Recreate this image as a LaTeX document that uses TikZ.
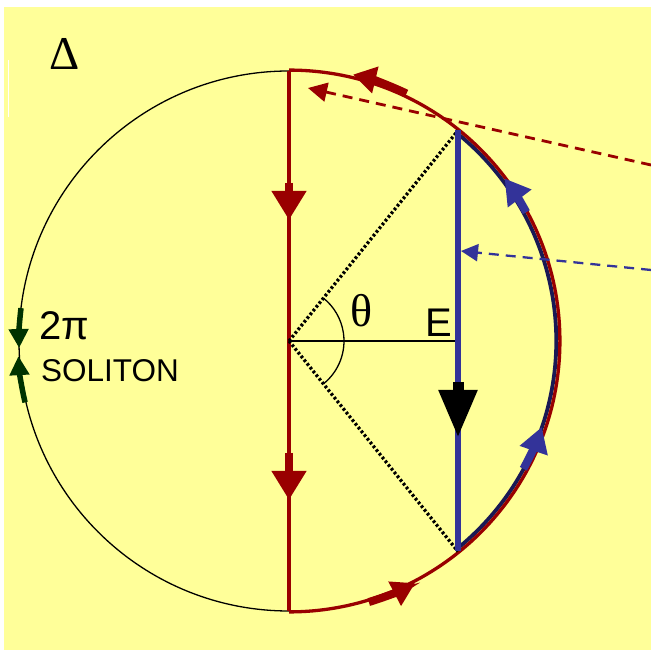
\documentclass[tikz,border=0pt]{standalone}
\usepackage{fontspec}
\setmainfont{Liberation Sans}
\newfontfamily\timesfont{Liberation Serif}
\usetikzlibrary{arrows.meta,calc}
\definecolor{bgy}{RGB}{255,255,153}
\definecolor{dred}{RGB}{153,0,0}
\definecolor{pblue}{RGB}{51,51,153}
\definecolor{navy}{RGB}{25,25,85}
\definecolor{dgreen}{RGB}{0,51,0}
\begin{document}
\begin{tikzpicture}[x=1pt,y=1pt,
  thinblack/.style={black, line width=1.3pt},
  redline/.style={dred, line width=3.2pt},
  blueline/.style={pblue, line width=5.5pt},
  dotline/.style={black, line width=3.3pt, dash pattern=on 2.6pt off 2.2pt},
  fatred/.style={dred, line width=8pt, -{Triangle[length=29pt,width=33pt]}},
  arcred/.style={dred, line width=8pt, -{Triangle[length=23pt,width=26pt]}},
  arcblue/.style={pblue, line width=8pt, -{Triangle[length=25pt,width=28pt]}},
  fatblack/.style={black, line width=11pt, -{Triangle[length=48pt,width=36pt]}},
  greenarrow/.style={dgreen, line width=5.5pt, -{Triangle[length=19pt,width=19pt]}},
  reddash/.style={dred, line width=2.8pt, dash pattern=on 10pt off 7pt, -{Triangle[length=19pt,width=19pt]}},
  bluedash/.style={pblue, line width=2.3pt, dash pattern=on 10pt off 7pt, -{Triangle[length=17pt,width=17pt]}},
  lbl/.style={inner sep=0pt, anchor=base}
]
\useasboundingbox (0,0) rectangle (651,650);
\fill[bgy] (4,0) rectangle (651,643);
\draw[white, line width=1pt] (8,590) -- (8,533);

% geometry
\coordinate (C) at (289,309);
\coordinate (T) at (289,579);
\coordinate (B) at (289,39);
\coordinate (P) at (458,519.5);
\coordinate (Q) at (458,98.5);
\coordinate (M) at (458,309);

% circle halves
\draw[thinblack] (T) arc[start angle=90, end angle=270, radius=270];
\draw[navy, line width=3.8pt] ($(C)+(-51.24:267.3)$) arc[start angle=-51.24, end angle=51.24, radius=267.3];
\draw[redline, line width=3.3pt] ($(C)+(-90:270.9)$) arc[start angle=-90, end angle=90, radius=270.9];

% red diameter
\draw[redline] (T) -- (B);
% chord and radius
\draw[dotline] (C) -- (P);
\draw[dotline] (C) -- (Q);
\draw[thinblack] (C) -- (M);
\draw[thinblack] ($(C)+(-51.24:55)$) arc[start angle=-51.24, end angle=51.24, radius=55];
\draw[blueline] (P) -- (Q);

% arrows on red diameter
\draw[fatred] (289,467) -- (289,430);
\draw[fatred] (289,197) -- (289,150);
% black arrow on chord
\draw[fatblack] (458,268) -- (458,212);
% arrows along arcs
\draw[arcred] ($(C)+(64.6:274)$) arc[start angle=64.6, end angle=76.5, radius=274];
\draw[arcred] ($(C)+(-73:273)$) arc[start angle=-73, end angle=-62.5, radius=273];
\draw[arcblue] ($(C)+(28.5:270)$) arc[start angle=28.5, end angle=37, radius=270];
\draw[arcblue] ($(C)+(-28.6:267)$) arc[start angle=-28.6, end angle=-18.8, radius=267];
% green soliton arrows
\draw[greenarrow] ($(C)+(173:270)$) arc[start angle=173, end angle=181.5, radius=270];
\draw[greenarrow] ($(C)+(193.1:271)$) arc[start angle=193.1, end angle=183.2, radius=271];

% dashed arrows
\coordinate (rd1) at (651,485);
\coordinate (rd2) at (308,562);
\coordinate (bd1) at (651,380);
\coordinate (bd2) at (461,399);
\draw[reddash] (rd1) -- (rd2);
\draw[bluedash] (bd1) -- (bd2);

% labels
\node[lbl, font=\timesfont\fontsize{47}{47}\selectfont] (delta) at (64.5,580) {Δ};
\node[lbl, font=\timesfont\fontsize{46}{46}\selectfont] (theta) at (362,323) {θ};
\node[lbl, font=\fontsize{40}{40}\selectfont] (E) at (438.5,313) {E};
\node[lbl, anchor=base west, font=\fontsize{40}{40}\selectfont] (twopi) at (39,310) {2π};
\node[lbl, anchor=base west, font=\fontsize{31.5}{31.5}\selectfont] (soliton) at (41,268) {SOLITON};
\end{tikzpicture}
\end{document}
